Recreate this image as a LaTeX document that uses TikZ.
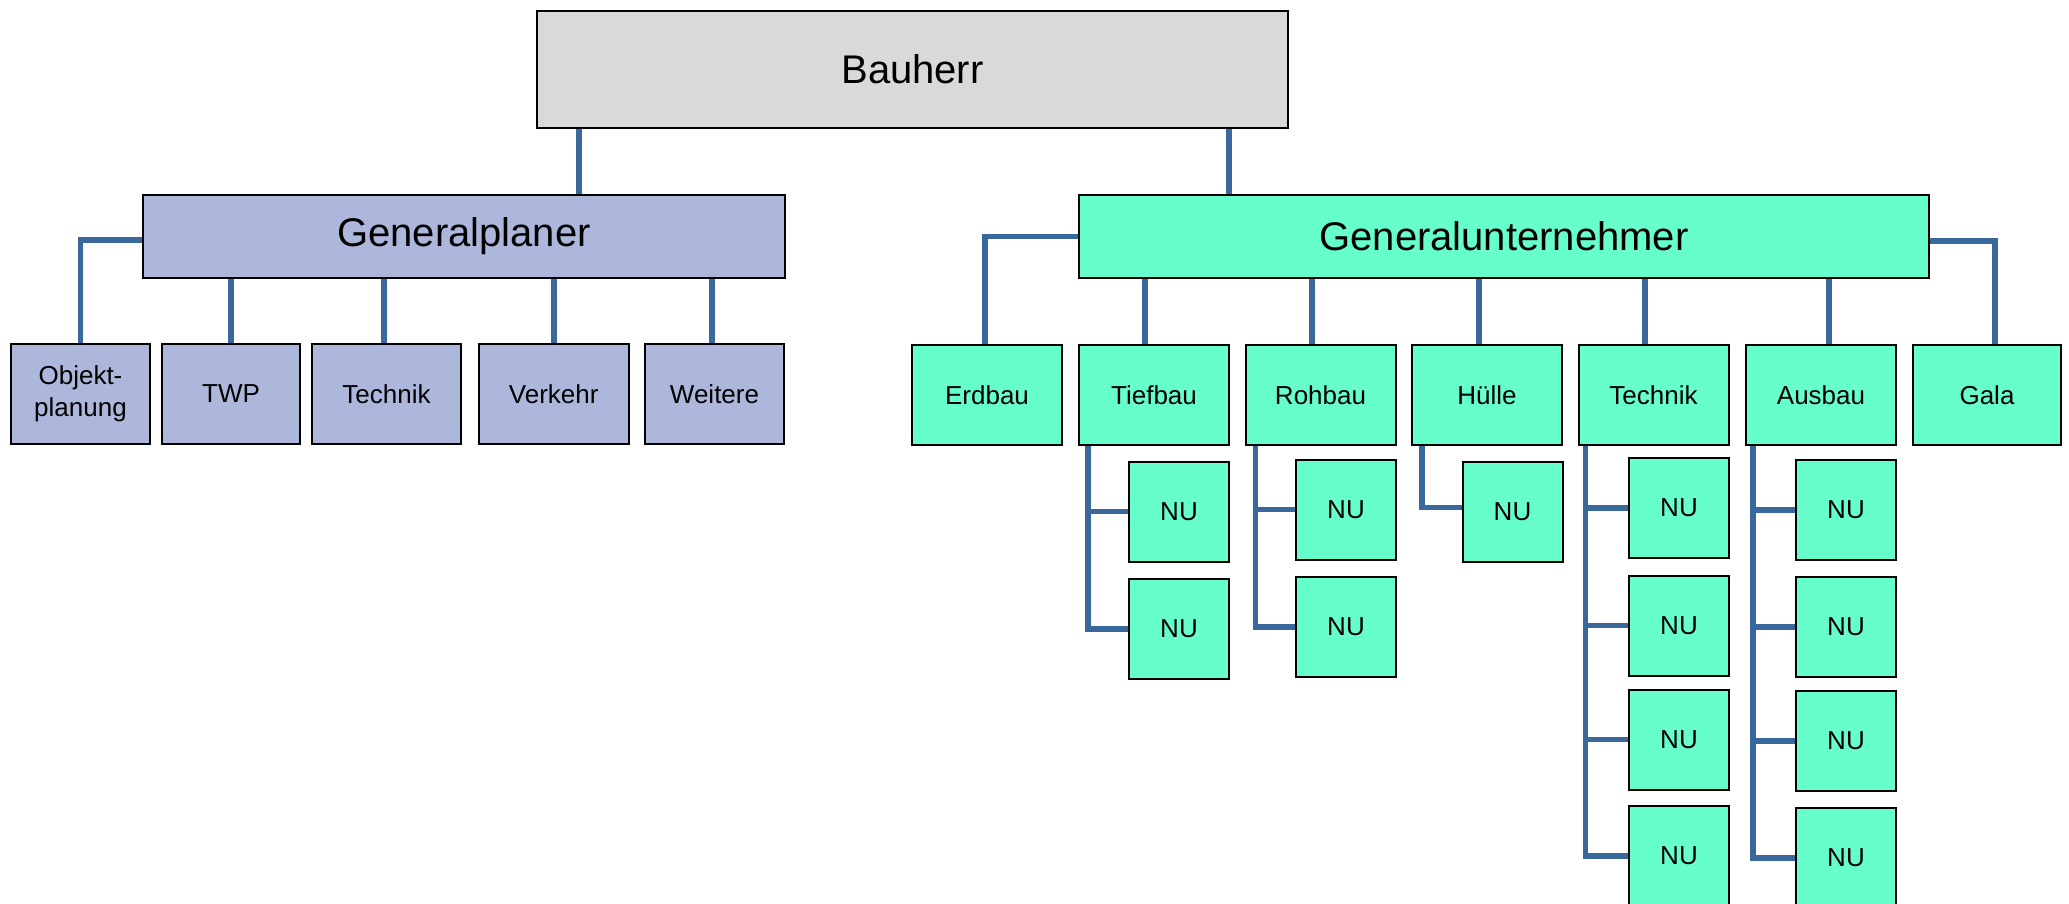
\documentclass[tikz,border=0pt]{standalone}
\usepackage{fontspec}
\setmainfont{Liberation Sans}
\usetikzlibrary{backgrounds}
\definecolor{conncol}{RGB}{56,104,156}
\definecolor{gpfill}{RGB}{173,183,219}
\definecolor{gufill}{RGB}{102,255,204}
\definecolor{bhfill}{RGB}{217,217,217}
\begin{document}
\begin{tikzpicture}[x=1pt,y=-1pt,
 box/.style={draw=black,line width=2pt,inner sep=0pt,outer sep=0pt,rectangle},
 big/.style={box,font=\fontsize{40}{48}\selectfont},
 small/.style={box,font=\fontsize{26}{32}\selectfont,minimum height=100pt,align=center},
 gpbox/.style={small,fill=gpfill},
 gubox/.style={small,fill=gufill,minimum width=150pt},
 nubox/.style={small,fill=gufill,minimum width=100pt},
 conn/.style={draw=conncol,line width=5.5pt}]
\clip (0,0) rectangle (2069,904);
% top level
\node[big,fill=bhfill,minimum width=751pt,minimum height=117pt] (bau) at (912.5,69.5) {Bauherr};
\node[big,fill=gpfill,minimum width=642pt,minimum height=83pt] (gp) at (464,236.5) {Generalplaner};
\node[big,fill=gufill,minimum width=850pt,minimum height=83pt] (gu) at (1504,236.5) {Generalunternehmer};
% planer children
\node[gpbox,minimum width=139pt] (obj) at (80.5,394) {Objekt-\\planung};
\node[gpbox,minimum width=138pt] (twp) at (231,394) {TWP};
\node[gpbox,minimum width=149pt] (techp) at (386.5,394) {Technik};
\node[gpbox,minimum width=149.5pt] (verk) at (553.75,394) {Verkehr};
\node[gpbox,minimum width=139pt] (weit) at (714.5,394) {Weitere};
% unternehmer children
\node[gubox] (erd) at (987,395) {Erdbau};
\node[gubox] (tief) at (1154,395) {Tiefbau};
\node[gubox] (roh) at (1320.5,395) {Rohbau};
\node[gubox] (hue) at (1487,395) {Hülle};
\node[gubox] (techu) at (1653.5,395) {Technik};
\node[gubox] (aus) at (1821,395) {Ausbau};
\node[gubox,minimum width=148pt] (gala) at (1987,395) {Gala};
% NU
\node[nubox] (tnu1) at (1179,511.5) {NU};
\node[nubox] (tnu2) at (1179,629) {NU};
\node[nubox] (rnu1) at (1346,509.5) {NU};
\node[nubox] (rnu2) at (1346,627) {NU};
\node[nubox] (hnu1) at (1512.5,511.5) {NU};
\node[nubox] (knu1) at (1679,508) {NU};
\node[nubox] (knu2) at (1679,625.5) {NU};
\node[nubox] (knu3) at (1679,739.5) {NU};
\node[nubox] (knu4) at (1679,856) {NU};
\node[nubox] (anu1) at (1846,510) {NU};
\node[nubox] (anu2) at (1846,627) {NU};
\node[nubox] (anu3) at (1846,741) {NU};
\node[nubox] (anu4) at (1846,858) {NU};
\begin{scope}[on background layer]
\fill[white] (0,0) rectangle (2069,904);
\draw[conn] ([xshift=115pt]gp.north) -- ([xshift=115pt]gp.north |- bau.south);
\draw[conn] ([xshift=-275pt]gu.north) -- ([xshift=-275pt]gu.north |- bau.south);
\draw[conn] ([yshift=-3.5pt]gp.west) -| (obj.north);
\draw[conn] (twp.north) -- (twp.north |- gp.south);
\draw[conn] ([xshift=-2.5pt]techp.north) -- ([xshift=-2.5pt]techp.north |- gp.south);
\draw[conn] (verk.north) -- (verk.north |- gp.south);
\draw[conn] ([xshift=-2.5pt]weit.north) -- ([xshift=-2.5pt]weit.north |- gp.south);
\draw[conn] (gu.west) -| ([xshift=-2pt]erd.north);
\draw[conn] ([xshift=-9pt]tief.north) -- ([xshift=-9pt]tief.north |- gu.south);
\draw[conn] ([xshift=-8.5pt]roh.north) -- ([xshift=-8.5pt]roh.north |- gu.south);
\draw[conn] ([xshift=-8pt]hue.north) -- ([xshift=-8pt]hue.north |- gu.south);
\draw[conn] ([xshift=-8.5pt]techu.north) -- ([xshift=-8.5pt]techu.north |- gu.south);
\draw[conn] ([xshift=8pt]aus.north) -- ([xshift=8pt]aus.north |- gu.south);
\draw[conn] ([yshift=-4.5pt]gu.east) -| ([xshift=8pt]gala.north);
\draw[conn] ([xshift=9pt]tief.south west) |- (tnu1.west);
\draw[conn] ([xshift=9pt]tief.south west) |- (tnu2.west);
\draw[conn] ([xshift=10pt]roh.south west) |- (rnu1.west);
\draw[conn] ([xshift=10pt]roh.south west) |- (rnu2.west);
\draw[conn] ([xshift=10pt]hue.south west) |- ([yshift=4pt]hnu1.west);
\foreach \n in {knu1,knu2,knu3,knu4}
  \draw[conn] ([xshift=7pt]techu.south west) |- (\n.west);
\foreach \n in {anu1,anu2,anu3,anu4}
  \draw[conn] ([xshift=7pt]aus.south west) |- (\n.west);
\end{scope}
\end{tikzpicture}
\end{document}
